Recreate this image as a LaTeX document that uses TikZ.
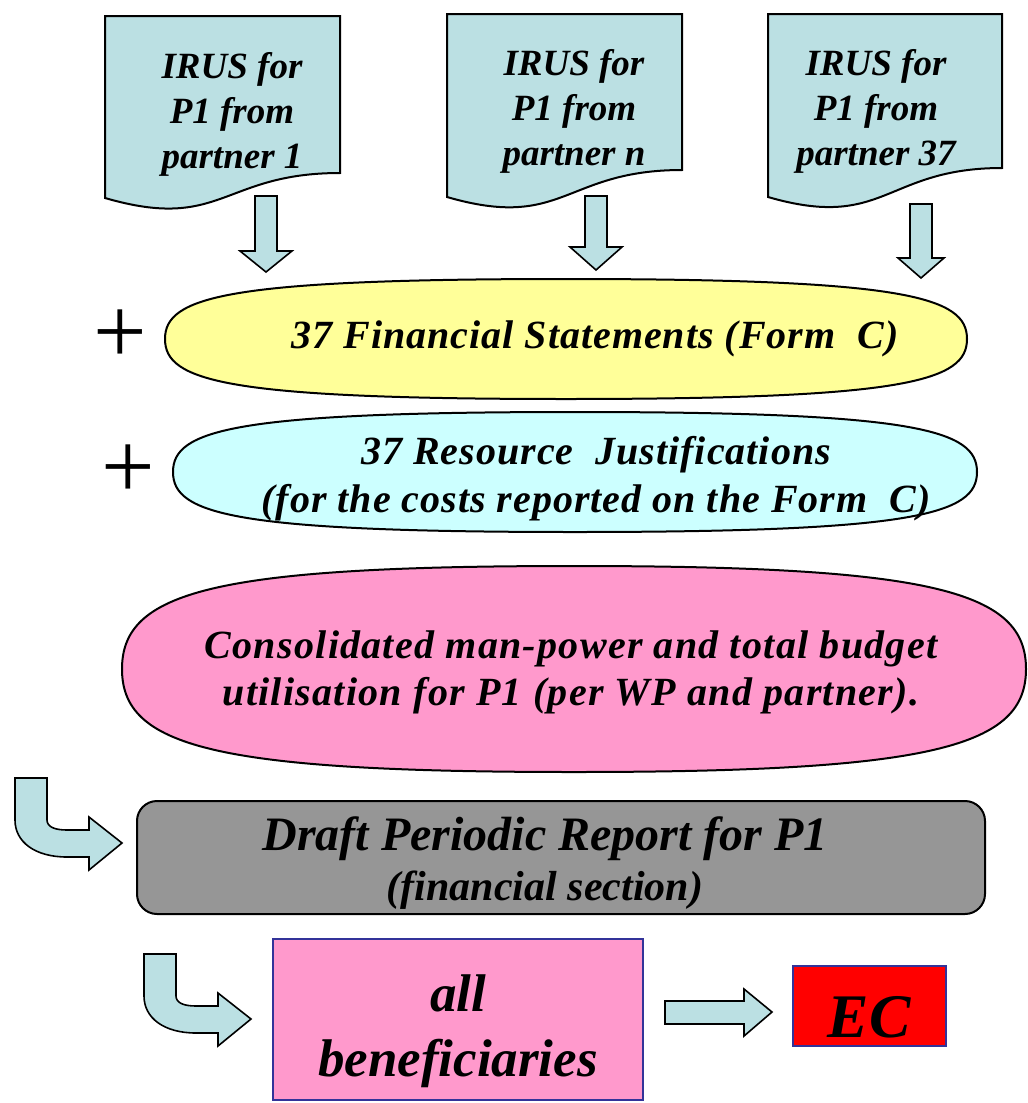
\documentclass[tikz,border=0pt]{standalone}
\usepackage{fontspec}
\setmainfont{Liberation Serif}
\newfontfamily\spreadserif[LetterSpace=2.5]{Liberation Serif}
\newfontfamily\widerserif[LetterSpace=3.2]{Liberation Serif}
\definecolor{irusfill}{HTML}{BBE0E3}
\definecolor{formyellow}{HTML}{FFFF99}
\definecolor{justcyan}{HTML}{CCFFFF}
\definecolor{budgetpink}{HTML}{FF99CC}
\definecolor{draftgray}{HTML}{969696}
\definecolor{framblue}{HTML}{333399}
\newcommand{\fsz}[2]{\fontsize{#1}{#2}\selectfont}
\tikzset{
  docline/.style={line width=2pt,draw=black,fill=irusfill},
  blockarrow/.style={line width=1.6pt,draw=black,fill=irusfill},
  ovalline/.style={line width=2pt,draw=black},
  boxtext/.style={font=\bfseries\itshape,align=center,inner sep=0pt},
}
\begin{document}
\begin{tikzpicture}[line cap=round,line join=miter,x=1pt,y=-1pt]
\useasboundingbox (0,0) rectangle (1028,1103);

% the three IRUS documents
\draw [shift={(105,16)},docline] (0,0) -- (235,0) -- (235,157) .. controls (117,157) and (117,216) .. (0,182) -- cycle;
\draw [shift={(447,14)},docline] (0,0) -- (235,0) -- (235,156) .. controls (117,156) and (117,217) .. (0,183) -- cycle;
\draw [shift={(768,14)},docline] (0,0) -- (234,0) -- (234,154) .. controls (117,154) and (117,217) .. (0,183) -- cycle;
\node [boxtext,font=\bfseries\itshape\fsz{37}{45}] (irus1) at (232,114) {IRUS for\\P1 from\\partner 1};
\node [boxtext,font=\bfseries\itshape\fsz{37}{45}] (irusn) at (574,111) {IRUS for\\P1 from\\partner n};
\node [boxtext,font=\bfseries\itshape\fsz{37}{45}] (irus37) at (876,111) {IRUS for\\P1 from\\partner 37};

% down arrows
\draw [shift={(266,196)},blockarrow] (-11,0) -- (11,0) -- (11,55) -- (26,55) -- (0,76) -- (-26,55) -- (-11,55) -- cycle;
\draw [shift={(596,196)},blockarrow] (-11,0) -- (11,0) -- (11,51) -- (26,51) -- (0,74) -- (-26,51) -- (-11,51) -- cycle;
\draw [shift={(921,204)},blockarrow] (-11,0) -- (11,0) -- (11,54) -- (23,54) -- (0,74) -- (-23,54) -- (-11,54) -- cycle;

% financial statements
\draw [ovalline,fill=formyellow] (165,339) .. controls (165,297) and (225,279) .. (566,279) .. controls (907,279) and (967,297) .. (967,339) .. controls (967,381) and (907,399) .. (566,399) .. controls (225,399) and (165,381) .. (165,339) -- cycle;
\node [boxtext,font=\spreadserif\bfseries\itshape\fsz{40}{48}] (formc) at (595,339) {37 Financial Statements (Form\ \ C)};
\node [font=\fsz{95}{95}] (plus1) at (120,337) {+};

% resource justifications
\draw [ovalline,fill=justcyan] (173,472) .. controls (173,430) and (233,412) .. (575,412) .. controls (917,412) and (977,430) .. (977,472) .. controls (977,514) and (917,532) .. (575,532) .. controls (233,532) and (173,514) .. (173,472) -- cycle;
\node [boxtext,font=\spreadserif\bfseries\itshape\fsz{40}{48}] (resjust) at (596,479) {37 Resource\ \ Justifications\\(for the costs reported on the Form\ \ C)};
\node [font=\fsz{95}{95}] (plus2) at (128,472) {+};

% consolidated budget
\draw [ovalline,fill=budgetpink] (122,669) .. controls (122,592) and (212,566) .. (574,566) .. controls (936,566) and (1026,592) .. (1026,669) .. controls (1026,746) and (936,772) .. (574,772) .. controls (212,772) and (122,746) .. (122,669) -- cycle;
\node [boxtext,font=\widerserif\bfseries\itshape\fsz{40}{47}] (budget) at (571,672) {Consolidated man-power and total budget\\utilisation for P1 (per WP and partner).};

% draft periodic report
\draw [ovalline,fill=draftgray,rounded corners=20pt] (137,801) rectangle (985,914);
\node [boxtext] (draft) at (545,863) {{\fsz{48}{52}Draft Periodic Report for P1}\\[9pt]{\fsz{42}{52}(financial section)}};

% bent arrows
\draw [shift={(15,778)},blockarrow] (0,0) -- (32,0) -- (32,42) .. controls (32,49) and (40,52) .. (52,52) -- (74,52) -- (74,39) -- (107,65) -- (74,92) -- (74,79) -- (52,79) .. controls (20,79) and (0,64) .. (0,42) -- cycle;
\draw [shift={(144,954)},blockarrow] (0,0) -- (32,0) -- (32,42) .. controls (32,49) and (40,52) .. (52,52) -- (74,52) -- (74,39) -- (107,65) -- (74,92) -- (74,79) -- (52,79) .. controls (20,79) and (0,64) .. (0,42) -- cycle;

% beneficiaries and EC
\draw [line width=2pt,draw=framblue,fill=budgetpink] (273,939) rectangle (643,1100);
\node [boxtext,font=\bfseries\itshape\fsz{53}{65}] (benef) at (458,1031) {all\\beneficiaries};
\draw [blockarrow] (665,1001) -- (744,1001) -- (744,989) -- (772,1012) -- (744,1036) -- (744,1024) -- (665,1024) -- cycle;
\draw [line width=2pt,draw=framblue,fill=red] (793,966) rectangle (946,1046);
\node [boxtext,font=\bfseries\itshape\fsz{62}{62}] (ec) at (869,1017) {EC};

\end{tikzpicture}
\end{document}
